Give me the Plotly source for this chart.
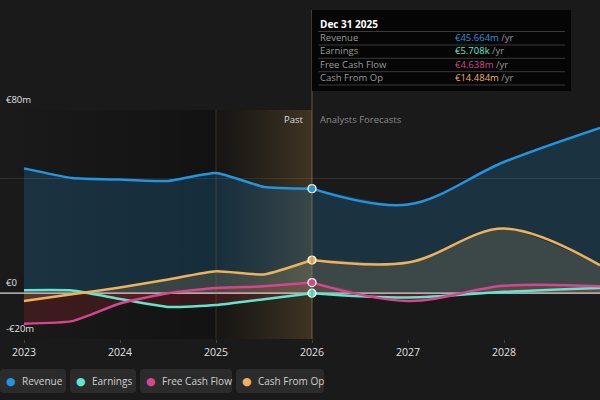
import plotly.graph_objects as go

# data (EUR millions)
past_x = [2023.0, 2023.5, 2024.0, 2024.5, 2025.0, 2025.5, 2026.0]
fc_x = [2026.0, 2027.0, 2028.0, 2029.0]

revenue_past = [54.5, 50.3, 49.6, 49.0, 52.5, 46.4, 45.664]
revenue_fc = [45.664, 38.7, 57.3, 72.2]

earnings_past = [1.3, 1.2, -2.5, -6.0, -5.2, -2.6, 0.0057]
earnings_fc = [0.0057, -1.9, 0.6, 2.3]

fcf_past = [-13.3, -12.2, -4.5, 0.0, 2.3, 3.0, 4.638]
fcf_fc = [4.638, -3.4, 3.2, 3.0]

cfo_past = [-3.4, -0.5, 2.5, 6.0, 9.6, 8.2, 14.484]
cfo_fc = [14.484, 13.4, 28.2, 12.2]

series_names = ["Revenue", "Earnings", "Free Cash Flow", "Cash From Op"]
series_colors = ["#2394df", "#5ee6cf", "#d4478f", "#eeb15c"]
fill_colors = ["rgba(35,148,223,0.20)", "rgba(190,40,50,0.22)",
               "rgba(190,40,50,0.22)", "rgba(235,195,110,0.16)"]
tooltip_values = ["€45.664m", "€5.708k", "€4.638m", "€14.484m"]

x_ticks = [2023, 2024, 2025, 2026, 2027, 2028]
y_grid = [-20, 50, 80]
y_labels = {80: "€80m", 0: "€0", -20: "-€20m"}

W, H = 600, 400
TOP, BOTTOM = 110, 339
FONT = "Open Sans"


def px(x):
    return x / W


def py(y):
    return (BOTTOM - y) / (BOTTOM - TOP)


def pill(x0, x1, y0, y1, r=4):
    # rounded rectangle path in pixel coords -> paper coords
    return (f"M {px(x0 + r)} {py(y0)} L {px(x1 - r)} {py(y0)} "
            f"Q {px(x1)} {py(y0)} {px(x1)} {py(y0 + r)} "
            f"L {px(x1)} {py(y1 - r)} Q {px(x1)} {py(y1)} {px(x1 - r)} {py(y1)} "
            f"L {px(x0 + r)} {py(y1)} Q {px(x0)} {py(y1)} {px(x0)} {py(y1 - r)} "
            f"L {px(x0)} {py(y0 + r)} Q {px(x0)} {py(y0)} {px(x0 + r)} {py(y0)} Z")


fig = go.Figure()

# darker past background and highlighted last year
fig.add_trace(go.Scatter(
    x=[2022.75, 2025, 2025, 2022.75, 2022.75], y=[-20, -20, 80, 80, -20],
    fill="toself", mode="none", hoverinfo="skip", showlegend=False,
    fillgradient=dict(type="horizontal",
                      colorscale=[[0, "rgba(0,0,0,0)"], [1, "rgba(0,0,0,0.3)"]]),
))
fig.add_trace(go.Scatter(
    x=[2025, 2026, 2026, 2025, 2025], y=[-20, -20, 80, 80, -20],
    fill="toself", mode="none", hoverinfo="skip", showlegend=False,
    fillgradient=dict(type="horizontal",
                      colorscale=[[0, "rgba(10,8,5,0.3)"], [1, "rgba(130,100,50,0.36)"]]),
))

pasts = [revenue_past, earnings_past, fcf_past, cfo_past]
fcs = [revenue_fc, earnings_fc, fcf_fc, cfo_fc]

# fills first
for past, fc, fcol in zip(pasts, fcs, fill_colors):
    fig.add_trace(go.Scatter(
        x=past_x + fc_x[1:], y=past + fc[1:], mode="none", fill="tozeroy",
        fillcolor=fcol, line_shape="spline", line_smoothing=0.6,
        hoverinfo="skip", showlegend=False,
    ))

# zero line
fig.add_trace(go.Scatter(
    x=[2022.75, 2029.0], y=[0, 0], mode="lines",
    line=dict(color="#d8d8d8", width=1.2), hoverinfo="skip", showlegend=False,
))

# lines
for name, col, past, fc in zip(series_names, series_colors, pasts, fcs):
    fig.add_trace(go.Scatter(
        x=past_x, y=past, mode="lines", name=name,
        line=dict(color=col, width=2.5, shape="spline", smoothing=0.5),
        showlegend=False,
    ))
    fig.add_trace(go.Scatter(
        x=fc_x, y=fc, mode="lines", name=name,
        line=dict(color=col, width=2.5, shape="spline", smoothing=1.0),
        showlegend=False,
    ))
for col, past in zip(series_colors, pasts):
    fig.add_trace(go.Scatter(
        x=[past_x[-1]], y=[past[-1]], mode="markers",
        marker=dict(color=col, size=8, line=dict(color="white", width=1.3)),
        showlegend=False, hoverinfo="skip",
    ))

shapes = [
    # vertical line at 2025 and 2026
    dict(type="line", xref="x", yref="paper", x0=2025, x1=2025, y0=0, y1=1,
         line=dict(color="rgba(140,120,80,0.3)", width=1)),
    dict(type="line", xref="x", yref="paper", x0=2026, x1=2026, y0=0, y1=py(10),
         line=dict(color="rgba(150,120,70,0.7)", width=1)),
    # tooltip box
    dict(type="rect", xref="paper", yref="paper", x0=px(312), x1=px(571),
         y0=py(91), y1=py(10), fillcolor="#050505", line=dict(width=0), layer="above"),
]
for ry in [31.5, 45, 58.3, 71.7, 85]:
    shapes.append(dict(type="line", xref="paper", yref="paper", x0=px(318), x1=px(565),
                       y0=py(ry), y1=py(ry), line=dict(color="#3a3a3a", width=1),
                       layer="above"))

annotations = [
    dict(text="<b>Dec 31 2025</b>", x=px(318), y=py(23.5), xref="paper", yref="paper",
         xanchor="left", yanchor="middle", showarrow=False,
         font=dict(size=10, color="white")),
    dict(text="Past", x=px(306), y=py(119), xref="paper", yref="paper",
         xanchor="right", yanchor="middle", showarrow=False,
         font=dict(size=9.5, color="#dddddd")),
    dict(text="Analysts Forecasts", x=px(318), y=py(119), xref="paper", yref="paper",
         xanchor="left", yanchor="middle", showarrow=False,
         font=dict(size=9.5, color="#8a8a8a")),
]
for i, (name, col, val) in enumerate(zip(series_names, series_colors, tooltip_values)):
    ry = 37.5 + i * 13.3
    annotations.append(dict(text=name, x=px(318), y=py(ry), xref="paper", yref="paper",
                            xanchor="left", yanchor="middle", showarrow=False,
                            font=dict(size=9.5, color="#9a9a9a")))
    annotations.append(dict(text=f'<span style="color:{col}">{val}</span> /yr',
                            x=px(453), y=py(ry), xref="paper", yref="paper",
                            xanchor="left", yanchor="middle", showarrow=False,
                            font=dict(size=9.5, color="#9a9a9a")))
for val, lab in y_labels.items():
    annotations.append(dict(text=lab, x=px(4), y=val, xref="paper", yref="y",
                            xanchor="left", yanchor="bottom", yshift=2, showarrow=False,
                            font=dict(size=9.5, color="#e0e0e0")))

# legend pills
pill_x = [(0, 66), (70, 136), (140, 232), (236, 324)]
for (x0, x1), name, col in zip(pill_x, series_names, series_colors):
    shapes.append(dict(type="path", xref="paper", yref="paper",
                       path=pill(x0, x1, 369, 393),
                       fillcolor="#2b2b2b", line=dict(width=0)))
    annotations.append(dict(text="●", x=px(x0 + 11), y=py(381), xref="paper", yref="paper",
                            xanchor="center", yanchor="middle", showarrow=False,
                            font=dict(family="DejaVu Sans", size=11, color=col)))
    annotations.append(dict(text=name, x=px(x0 + 20), y=py(381), xref="paper", yref="paper",
                            xanchor="left", yanchor="middle", showarrow=False,
                            font=dict(size=10, color="#cfcfcf")))

fig.update_layout(
    width=W, height=H,
    margin=dict(l=0, r=0, t=TOP, b=H - BOTTOM),
    paper_bgcolor="#1a1a1a", plot_bgcolor="#1a1a1a",
    font=dict(family=FONT, color="#dddddd"),
    showlegend=False,
    shapes=shapes, annotations=annotations,
    xaxis=dict(range=[2022.75, 2029.0], tickvals=x_ticks, showgrid=False,
               zeroline=False, showline=False, ticks="outside", ticklen=3,
               tickcolor="#444444", tickfont=dict(size=10.5, color="#e0e0e0")),
    yaxis=dict(range=[-20, 80], tickvals=y_grid, showticklabels=False,
               gridcolor="#333333", gridwidth=1, zeroline=False),
)

fig.write_html("out.html", config={"displayModeBar": False},
               post_script="document.body.style.margin='0';"
                           "document.body.style.background='#1a1a1a';")
